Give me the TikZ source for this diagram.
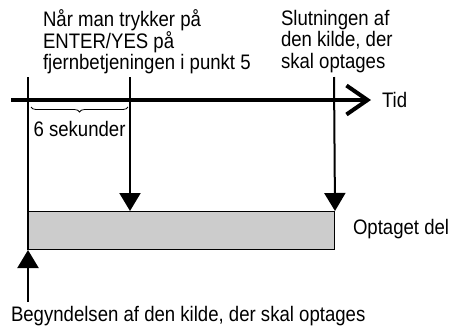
\documentclass[tikz,border=0pt]{standalone}
\usepackage{fontspec}
\setmainfont[FakeStretch=0.885]{Liberation Sans}
\usetikzlibrary{arrows.meta,decorations.pathreplacing}
\begin{document}
\begin{tikzpicture}[x=1pt,y=-1pt,line width=2pt,
    every node/.style={font=\fontsize{21}{21.5}\selectfont, inner sep=0pt},
    txt/.style={align=left, anchor=north west},
    pil/.style={-{Triangle[width=21pt,length=18pt]}},
    tidspil/.style={line width=4pt, -{Straight Barb[length=21pt,width=29pt,line width=4pt]}}]
\useasboundingbox (0,0) rectangle (453,325);
\node [txt] (tryk) at (42,9) {Når man trykker på\\ENTER/YES på\\fjernbetjeningen i punkt 5};
\node [txt] (slut) at (280,9) {Slutningen af\\den kilde, der\\skal optages};
\coordinate (s0) at (28,77);
\coordinate (s1) at (130,77);
\coordinate (s2) at (334,77);
\coordinate (t0) at (11,100);
\coordinate (t1) at (371,100);
\node [anchor=west] (tid) at (381,100) {Tid};
\node [draw, line width=1pt, fill=gray!40, minimum width=306pt, minimum height=38pt,
    anchor=north west] (bar) at (28,211) {};
\node [anchor=west] (del) at (352,229) {Optaget del};
\node [anchor=west] (start) at (10,316) {Begyndelsen af den kilde, der skal optages};
\coordinate (b0) at (28,302);
\draw [tidspil] (t0) -- (t1);
\draw (s0) -- (bar.south west);
\draw [pil] (s1) -- (s1 |- bar.north);
\draw [pil] (s2) -- (bar.north east);
\draw [pil] (b0) -- (bar.south west);
\draw [line width=0.8pt, decorate, decoration={brace, mirror, amplitude=5pt}]
    (31,107) -- (128,107) node [midway, below=14pt] (sek) {6 sekunder};
\end{tikzpicture}
\end{document}
